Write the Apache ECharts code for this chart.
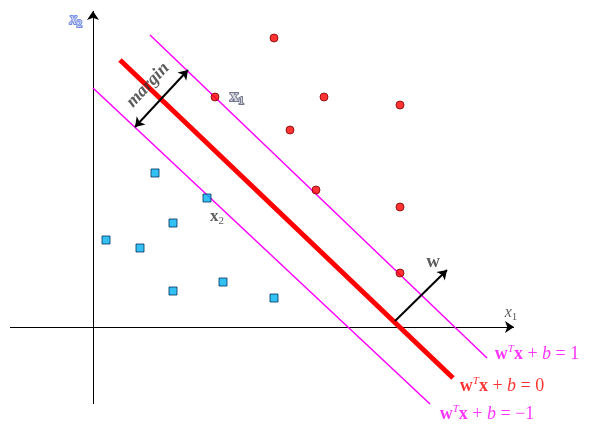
<!DOCTYPE html>
<html><head><meta charset="utf-8">
<script src="https://cdn.jsdelivr.net/npm/echarts@6/dist/echarts.min.js"></script>
<style>html,body{margin:0;padding:0;background:#fff}#c{width:599px;height:436px}</style>
</head><body><div id="c"></div>
<script>
const positives = [[181,289],[122,230],[231,230],[307,222],[197,197],[223,137],[307,120],[307,54]];
const negatives = [[62,154],[114,129],[13,87],[47,79],[80,104],[80,36],[130,45],[181,29]];
const hyperplane = [[27,267],[360,-51]];
const marginPlus = [[57,292],[394,-31]];
const marginMinus = [[0,239],[337,-77]];
const axisX = [[-83,0],[421,0]];
const axisY = [[0,-77],[0,316]];
const wArrow = [[302,6],[354,57]];
const marginArrow = [[42,200],[95,257]];
const serif = 'Liberation Serif';
const chart = echarts.init(document.getElementById('c'));
function line(pts, color, width, arrows){
  return {type:'lines', coordinateSystem:'cartesian2d', polyline:false, silent:true,
    symbol: arrows||['none','none'], symbolSize:9,
    lineStyle:{color:color,width:width,opacity:1},
    data:[{coords:pts}]};
}
function txt(pos, rich, fmt, rotate){
  return {type:'scatter', symbolSize:0, silent:true, data:[{value:pos}],
    label:{show:true, position:'inside', formatter:fmt, rotate:rotate||0, rich:rich, fontFamily:serif}};
}
chart.setOption({
  animation:false,
  grid:{left:0,right:0,top:0,bottom:0},
  xAxis:{type:'value',min:-93,max:506,show:false},
  yAxis:{type:'value',min:-109,max:327,show:false},
  series:[
    line(axisX,'#000',1,['none','arrow']),
    line(axisY,'#000',1,['none','arrow']),
    line(marginPlus,'#ff00ff',1.5),
    line(marginMinus,'#ff00ff',1.5),
    line(hyperplane,'#ff0000',5),
    line(wArrow,'#000',2,['none','arrow']),
    line(marginArrow,'#000',2,['arrow','arrow']),
    {type:'scatter',symbol:'circle',symbolSize:8,data:positives,
      itemStyle:{color:'#ff0000',borderColor:'#800000',borderWidth:1}},
    {type:'scatter',symbol:'rect',symbolSize:8,data:negatives,
      itemStyle:{color:'#00b0f0',borderColor:'#003060',borderWidth:1}},
    txt([-17,307],{a:{fontFamily:serif,fontStyle:'italic',fontSize:16},s:{fontFamily:serif,fontSize:11,padding:[8,0,0,0]}},'{a|x}{s|2}'),
    txt([418,14],{a:{fontFamily:serif,fontStyle:'italic',fontSize:16},s:{fontFamily:serif,fontSize:11,padding:[8,0,0,0]}},'{a|x}{s|1}'),
    txt([144,230],{a:{fontFamily:serif,fontWeight:'bold',fontSize:17},s:{fontFamily:serif,fontSize:11,padding:[8,0,0,0]}},'{a|x}{s|1}'),
    txt([124,110],{a:{fontFamily:serif,fontWeight:'bold',fontSize:17},s:{fontFamily:serif,fontSize:11,padding:[8,0,0,0]}},'{a|x}{s|2}'),
    txt([340,65],{a:{fontFamily:serif,fontWeight:'bold',fontSize:19}},'{a|w}'),
    txt([55,242],{a:{fontFamily:serif,fontWeight:'bold',fontStyle:'italic',fontSize:18}},'{a|margin}',47),
    txt([444,-27],{a:{fontFamily:serif,fontWeight:'bold',fontSize:18,color:'#ff00ff'},t:{fontFamily:serif,fontStyle:'italic',fontSize:11,color:'#ff00ff',padding:[0,0,10,0]},i:{fontFamily:serif,fontStyle:'italic',fontSize:18,color:'#ff00ff'},n:{fontFamily:serif,fontSize:18,color:'#ff00ff'}},'{a|w}{t|T}{a|x}{n| + }{i|b}{n| = 1}'),
    txt([409,-59],{a:{fontFamily:serif,fontWeight:'bold',fontSize:18,color:'#ff0000'},t:{fontFamily:serif,fontStyle:'italic',fontSize:11,color:'#ff0000',padding:[0,0,10,0]},i:{fontFamily:serif,fontStyle:'italic',fontSize:18,color:'#ff0000'},n:{fontFamily:serif,fontSize:18,color:'#ff0000'}},'{a|w}{t|T}{a|x}{n| + }{i|b}{n| = 0}'),
    txt([394,-87],{a:{fontFamily:serif,fontWeight:'bold',fontSize:18,color:'#ff00ff'},t:{fontFamily:serif,fontStyle:'italic',fontSize:11,color:'#ff00ff',padding:[0,0,10,0]},i:{fontFamily:serif,fontStyle:'italic',fontSize:18,color:'#ff00ff'},n:{fontFamily:serif,fontSize:18,color:'#ff00ff'}},'{a|w}{t|T}{a|x}{n| + }{i|b}{n| = −1}')
  ]
});
</script></body></html>
